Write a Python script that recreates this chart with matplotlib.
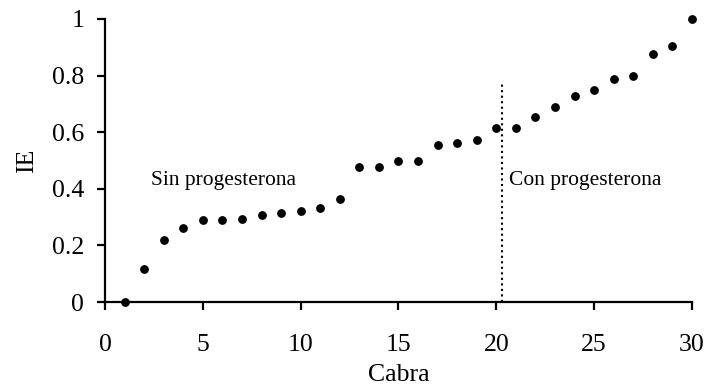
import matplotlib
matplotlib.use("Agg")
import matplotlib.pyplot as plt

# IE value for each goat, sorted from lowest to highest
cabra = list(range(1, 31))
ie = [0.0, 0.117, 0.22, 0.261, 0.289, 0.29, 0.292, 0.306, 0.314, 0.32,
      0.332, 0.363, 0.477, 0.477, 0.499, 0.499, 0.555, 0.563, 0.571, 0.616,
      0.616, 0.654, 0.689, 0.728, 0.75, 0.787, 0.8, 0.876, 0.906, 1.0]

# split between groups
corte_x = 20.27
corte_y = 0.778

xticks = [0, 5, 10, 15, 20, 25, 30]
yticks = [0, 0.2, 0.4, 0.6, 0.8, 1]
ytick_labels = ["0", "0.2", "0.4", "0.6", "0.8", "1"]

plt.rcParams["font.family"] = ["Liberation Serif", "DejaVu Serif"]

fig = plt.figure(figsize=(7.08, 3.87), dpi=100)
ax = fig.add_axes([0.1483, 0.2196, 0.8291, 0.7314])

ax.plot(cabra, ie, "o", color="black", markersize=5.3, clip_on=False, zorder=3)
ax.plot([corte_x, corte_x], [0, corte_y], color="black", linestyle=":", linewidth=1.5)

ax.text(2.35, 0.431, "Sin progesterona", fontsize=15.5, va="center", ha="left")
ax.text(20.64, 0.431, "Con progesterona", fontsize=15.5, va="center", ha="left")

ax.set_xlim(0, 30)
ax.set_ylim(0, 1)
ax.set_xticks(xticks)
ax.set_yticks(yticks)
ax.set_yticklabels(ytick_labels)
ax.tick_params(labelsize=18.5, length=6, width=1.6, direction="out")
ax.tick_params(axis="x", pad=17)
ax.tick_params(axis="y", pad=9)

ax.spines["top"].set_visible(False)
ax.spines["right"].set_visible(False)
ax.spines["left"].set_linewidth(1.6)
ax.spines["bottom"].set_linewidth(1.6)

ax.set_xlabel("Cabra", fontsize=18.5, labelpad=6)
ax.set_ylabel("IE", fontsize=18.5, labelpad=10)

fig.savefig("out.png", dpi=100)
